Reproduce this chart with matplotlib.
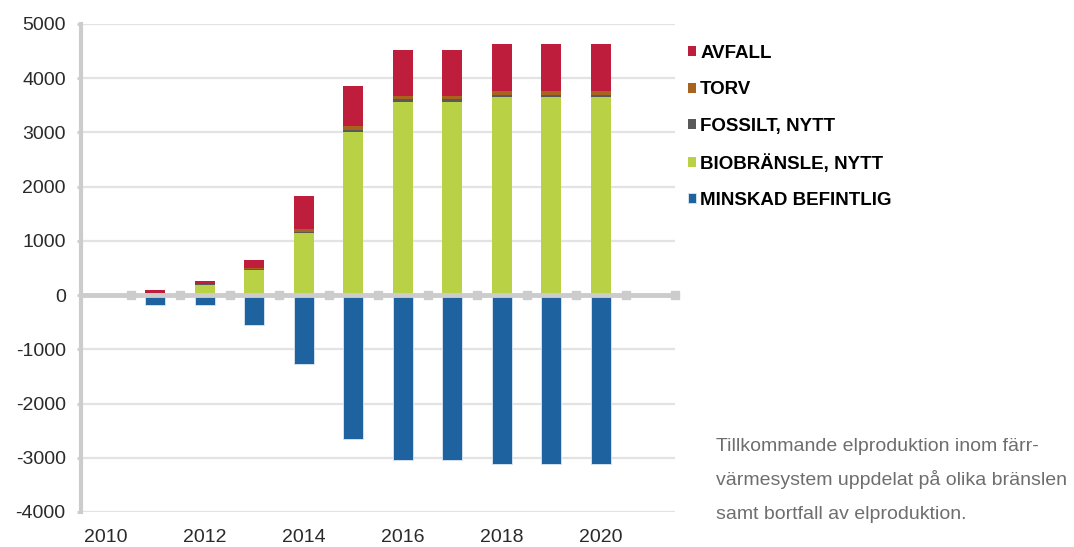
import numpy as np
import matplotlib
matplotlib.use("Agg")
from matplotlib import pyplot as plt

plt.rcParams["font.family"] = ["Liberation Sans", "DejaVu Sans"]
plt.rcParams["axes.unicode_minus"] = False

years = list(range(2010, 2022))
biobransle = [0, 30, 180, 470, 1140, 3010, 3570, 3570, 3660, 3660, 3660, 0]
fossilt = [0, 5, 20, 20, 30, 40, 40, 40, 30, 30, 30, 0]
torv = [0, 5, 10, 10, 50, 60, 60, 60, 80, 80, 80, 0]
avfall = [0, 50, 50, 150, 600, 740, 850, 850, 860, 860, 860, 0]
minskad = [0, -180, -190, -555, -1270, -2660, -3045, -3045, -3120, -3120, -3120, 0]

labels = ["MINSKAD BEFINTLIG", "BIOBRÄNSLE, NYTT", "FOSSILT, NYTT", "TORV", "AVFALL"]
colors = ["#1F62A0", "#B9D245", "#595959", "#A8641E", "#BE1E3C"]
caption = ["Tillkommande elproduktion inom färr-",
           "värmesystem uppdelat på olika bränslen",
           "samt bortfall av elproduktion."]

fig = plt.figure(figsize=(10.74, 5.47), dpi=100)
ax = fig.add_axes([81 / 1074, 1 - 512 / 547, 594 / 1074, 488 / 547])

x = np.arange(len(years))
w = 0.4
handles = []
handles.append(ax.bar(x, minskad, w, color=colors[0], edgecolor="#DDE6F0", linewidth=0.6, zorder=3))
bottom = np.zeros(len(years))
for vals, col in zip([biobransle, fossilt, torv, avfall], colors[1:]):
    handles.append(ax.bar(x, vals, w, bottom=bottom, color=col, edgecolor="none", zorder=3))
    bottom += np.array(vals)

ax.set_xlim(-0.5, len(years) - 0.5)
ax.set_ylim(-4000, 5000)
ax.set_yticks(np.arange(-4000, 5001, 1000))
ax.tick_params(axis="y", labelsize=14, colors="#CCCCCC", labelcolor="#2A2A2A",
               length=3, width=2, pad=8)
ax.yaxis.grid(True, color="#E3E3E3", linewidth=1.6, zorder=0)

# zero line with square markers between categories
ax.axhline(0, color="#CCCCCC", linewidth=3.5, zorder=4)
ax.plot(x[1:] - 0.5, np.zeros(len(x) - 1), "s", color="#CCCCCC", markersize=5.5, zorder=4)
ax.plot([len(years) - 0.5], [0], "s", color="#CCCCCC", markersize=5.5, zorder=4, clip_on=False)

ax.set_xticks(x[::2])
ax.set_xticklabels([str(y) for y in years[::2]], fontsize=14, color="#2A2A2A")
ax.tick_params(axis="x", length=0, pad=12)

for s in ["top", "right", "bottom"]:
    ax.spines[s].set_visible(False)
ax.spines["left"].set_color("#CCCCCC")
ax.spines["left"].set_linewidth(3)

ax.legend(handles[::-1], labels[::-1], loc="upper left",
          bbox_to_anchor=(688 / 1074, 1 - 45 / 547), bbox_transform=fig.transFigure,
          frameon=False, handlelength=0.45, handleheight=0.45, handletextpad=0.2,
          labelspacing=1.03, borderpad=0, borderaxespad=0,
          prop={"weight": "bold", "size": 13.5})

# caption, one line at a time so the spacing stays even
for i, line in enumerate(caption):
    fig.text(716 / 1074, 1 - (451 + 34 * i) / 547, line, fontsize=14, color="#6E6E6E",
             va="baseline", ha="left")

fig.savefig("out.png", dpi=100)
